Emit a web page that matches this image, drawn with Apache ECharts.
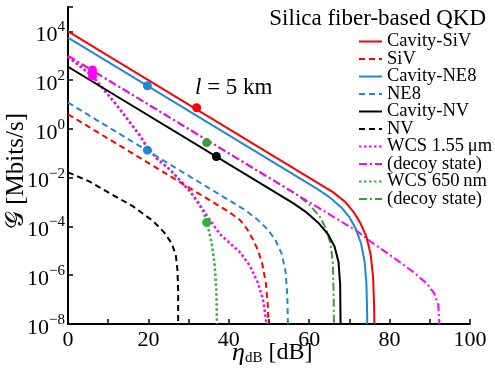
<!DOCTYPE html>
<html>
<head>
<meta charset="utf-8">
<script src="https://cdn.jsdelivr.net/npm/echarts@6/dist/echarts.min.js"></script>
<style>
  html, body { margin: 0; padding: 0; background: #fff; }
  #chart { width: 495px; height: 371px; }
</style>
</head>
<body>
<div id="chart"></div>
<script>
// eta_dB [dB], rate G [Mbits/s]
const cavSiV = [[0, 1e4], [62, 6.3e-3], [66, 2.5e-3], [69, 1e-3], [71, 4e-4], [72.7, 1.4e-4], [74.2, 3.9e-5], [75.3, 7e-6], [75.9, 8e-7], [76.15, 5e-8], [76.2, 1e-8]];
const siv = [[0, 4.0], [40, 4e-4], [42.7, 1.9e-4], [44.5, 8e-5], [46.1, 2.8e-5], [47.3, 1e-5], [48.3, 3e-6], [49.2, 5e-7], [49.7, 6e-8], [49.85, 1e-8]];
const cavNE8 = [[0, 5.5e3], [62, 3.5e-3], [65, 1.6e-3], [68, 6e-4], [70, 2.4e-4], [71.6, 8e-5], [72.9, 2e-5], [73.8, 3.5e-6], [74.25, 4e-7], [74.4, 3e-8], [74.45, 1e-8]];
const ne8 = [[0, 12], [44, 4.8e-4], [47, 2e-4], [49.5, 8e-5], [51.5, 3e-5], [53.1, 8e-6], [54.1, 1.5e-6], [54.55, 1.5e-7], [54.7, 1e-8]];
const cavNV = [[0, 355], [56, 9e-4], [59.5, 3.6e-4], [62.3, 1.4e-4], [64.6, 5e-5], [66.3, 1.5e-5], [67.3, 3.5e-6], [67.7, 4e-7], [67.8, 1e-8]];
const nv = [[0, 1.66e-2], [5.4, 6.9e-3], [10.4, 2.3e-3], [16.2, 6.6e-4], [21.1, 1.7e-4], [24, 5.5e-5], [25.8, 2e-5], [26.8, 7e-6], [27.25, 1.5e-6], [27.4, 2e-7], [27.4, 1e-8]];
const wcs155 = [[0, 910], [6.1, 148], [12, 10], [18, 0.5], [19.5, 0.2], [22, 6.3e-2], [25.3, 2.2e-2], [27.8, 7.9e-3], [30.3, 2.8e-3], [32.8, 7.5e-4], [35, 2.2e-4], [37.7, 5e-5], [40.2, 2.1e-5], [42.7, 9e-6], [45.2, 2.5e-6], [47.2, 5e-7], [48.5, 1e-7], [49.15, 2e-8], [49.35, 1e-8]];
const decoy155 = [[0, 1e3], [72, 6.3e-5], [75, 2.6e-5], [80, 6.9e-6], [85.8, 1.4e-6], [89.3, 4.5e-7], [91.1, 1.8e-7], [92.1, 6e-8], [92.4, 1e-8]];
const wcs650 = [[0, 910], [6.1, 148], [12, 10], [18, 0.5], [19.5, 0.2], [22, 6.3e-2], [25.3, 2.2e-2], [27.8, 7.9e-3], [30.3, 2.8e-3], [32.5, 9e-4], [33.8, 3.5e-4], [34.8, 1e-4], [35.8, 1.8e-5], [36.5, 2.5e-6], [36.9, 2.5e-7], [37.05, 1e-8]];
const decoy650 = [[0, 1e3], [57, 2e-3], [60, 7.9e-4], [62.6, 2.6e-4], [64.2, 8e-5], [65.3, 2e-5], [65.9, 3e-6], [66.1, 1e-7], [66.15, 1e-8]];

// l = 5 km points
const ptSiV = [32, 7.4];
const ptNE8 = [19.75, 59];
const ptNE8b = [19.75, 0.135];
const ptNV = [36.9, 0.074];
const ptWcs155 = [6.1, 148];
const ptDecoy155 = [6.1, 263];
const ptWcs650 = [34.5, 1.45e-4];
const ptDecoy650 = [34.5, 0.275];

const names = ['Cavity-SiV', 'SiV', 'Cavity-NE8', 'NE8', 'Cavity-NV', 'NV', 'WCS 1.55\u2009\u03bcm', '(decoy state)', 'WCS 650\u2009nm', '(decoy state) '];

const serif = '"Liberation Serif", "Times New Roman", serif';
const RED = '#ff0000', BLUE = '#1f88d2', BLACK = '#000000', MAG = '#ff00ff', GREEN = '#2fb52f', DGREEN = '#3c9c3c';

function line(name, data, color, type, pt, width) {
  const s = {
    name: name,
    type: 'line',
    data: data,
    symbol: 'none',
    lineStyle: { color: color, width: width || 2, type: type },
    itemStyle: { color: color },
    emphasis: { disabled: true },
    z: 2
  };
  if (pt) {
    s.markPoint = {
      symbol: 'circle',
      symbolSize: 9,
      label: { show: false },
      itemStyle: { color: color },
      data: [{ coord: pt }]
    };
  }
  return s;
}

const chart = echarts.init(document.getElementById('chart'));
chart.setOption({
  animation: false,
  title: {
    text: 'Silica fiber-based QKD',
    right: 4,
    top: 2,
    textStyle: { fontFamily: serif, fontSize: 23, fontWeight: 'normal', color: '#000' }
  },
  legend: {
    data: names,
    orient: 'vertical',
    left: 353,
    top: 27,
    itemWidth: 23,
    itemHeight: 12,
    itemGap: -1.5,
    itemStyle: { opacity: 0 },
    textStyle: { fontFamily: serif, fontSize: 18.5, color: '#000' }
  },
  grid: { left: 68, right: 25, top: 7, bottom: 47 },
  xAxis: {
    type: 'value',
    min: 0,
    max: 100,
    interval: 10,
    axisLine: { lineStyle: { color: '#000', width: 2 } },
    axisTick: { inside: true, length: 5, lineStyle: { color: '#000', width: 1.5 } },
    splitLine: { show: false },
    axisLabel: {
      color: '#000', fontFamily: serif, fontSize: 22, margin: 5,
      formatter: v => (v % 20 === 0 ? String(v) : '')
    }
  },
  yAxis: {
    type: 'log',
    logBase: 10,
    min: 1e-8,
    max: 1e5,
    interval: 2,
    axisLine: { show: true, lineStyle: { color: '#000', width: 2 } },
    axisTick: { show: true, inside: true, length: 5, lineStyle: { color: '#000', width: 1.5 } },
    splitLine: { show: false },
    axisLabel: {
      margin: 3,
      formatter: v => {
        const e = Math.round(Math.log10(v));
        if (e > 4) return '';
        return '{b|10}{s|' + (e < 0 ? '\u2212' + (-e) : e) + '}';
      },
      rich: {
        b: { fontFamily: serif, fontSize: 22, color: '#000', padding: [8, 0, 0, 0] },
        s: { fontFamily: serif, fontSize: 15, color: '#000', padding: [0, 0, 8, 0] }
      }
    }
  },
  graphic: [
    {
      type: 'text', x: 16, y: 171, rotation: Math.PI / 2,
      style: {
        text: '\ud835\udca2 [Mbits/s]', fontFamily: serif, fontSize: 25, fill: '#000',
        align: 'center', verticalAlign: 'middle'
      }
    },
    {
      type: 'text', x: 232, y: 353,
      style: {
        text: '{e|\u03b7}{d|dB} [dB]', fontFamily: serif, fontSize: 24, fill: '#000',
        align: 'left', verticalAlign: 'middle',
        rich: {
          e: { fontFamily: serif, fontSize: 26, fontStyle: 'italic', fill: '#000' },
          d: { fontFamily: serif, fontSize: 15, fill: '#000', padding: [10, 0, 0, 0] }
        }
      }
    },
    {
      type: 'text', x: 195, y: 88,
      style: {
        text: '{i|l} = 5 km', fontFamily: serif, fontSize: 23, fill: '#000',
        align: 'left', verticalAlign: 'middle',
        rich: { i: { fontFamily: serif, fontSize: 23, fontStyle: 'italic', fill: '#000' } }
      }
    }
  ],
  series: [
    line('WCS 650\u2009nm', wcs650, GREEN, [2.5, 2.5], ptWcs650, 2.5),
    line('(decoy state) ', decoy650, DGREEN, [8, 3, 2, 3], ptDecoy650),
    line('WCS 1.55\u2009\u03bcm', wcs155, MAG, [2.5, 2.5], ptWcs155, 2.5),
    line('(decoy state)', decoy155, MAG, [8, 3, 2, 3], ptDecoy155),
    line('NV', nv, BLACK, [6, 4], null),
    line('SiV', siv, RED, [6, 4], null),
    line('NE8', ne8, BLUE, [6, 4], ptNE8b),
    line('Cavity-NV', cavNV, BLACK, 'solid', ptNV),
    line('Cavity-NE8', cavNE8, BLUE, 'solid', ptNE8),
    line('Cavity-SiV', cavSiV, RED, 'solid', ptSiV)
  ]
});
</script>
</body>
</html>
